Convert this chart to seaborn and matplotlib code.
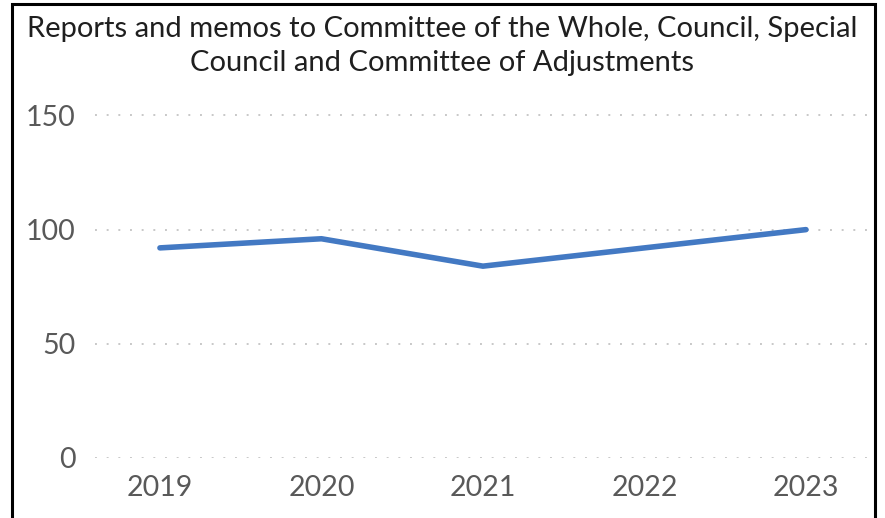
import matplotlib
matplotlib.use("Agg")
import matplotlib.pyplot as plt
from matplotlib.patches import Rectangle
import seaborn as sns
import pandas as pd

years = ["2019", "2020", "2021", "2022", "2023"]
reports = [92, 96, 84, 92, 100]
y_ticks = [0, 50, 100, 150]
title = "Reports and memos to Committee of the Whole, Council, Special\nCouncil and Committee of Adjustments"

sns.set_theme(style="white")
plt.rcParams["font.family"] = ["Lato", "DejaVu Sans"]

df = pd.DataFrame({"pos": range(len(years)), "count": reports})

fig = plt.figure(figsize=(8.85, 5.18), dpi=100)
ax = fig.add_axes([95 / 885, 1 - 458 / 518, (868 - 95) / 885, (458 - 112) / 518])

sns.lineplot(data=df, x="pos", y="count", ax=ax, color="#4379C3",
             linewidth=4.0, solid_capstyle="round", solid_joinstyle="round")

ax.set_xlim(-0.402, 4.384)
ax.set_ylim(0, 151.5)
ax.set_yticks(y_ticks)
ax.set_yticklabels([str(v) for v in y_ticks])
ax.set_xticks(range(len(years)))
ax.set_xticklabels(years)
ax.set_xlabel("")
ax.set_ylabel("")
for v in y_ticks:
    ax.axhline(v, color="#C8C8C8", linewidth=1.4, linestyle=(0, (1, 5)), zorder=0)
ax.grid(False)
for s in ax.spines.values():
    s.set_visible(False)
ax.tick_params(axis="both", length=0, labelsize=20.5, labelcolor="#595959")
ax.tick_params(axis="y", pad=14)
ax.tick_params(axis="x", pad=12)

fig.text(0.5, 1 - 46 / 518, title, ha="center", va="center", fontsize=21,
         color="#1F1F1F", linespacing=1.38)

fig.patches.append(Rectangle((12 / 885, -0.02), (875 - 12) / 885, 1 - 4 / 518 + 0.02,
                             transform=fig.transFigure, fill=False,
                             edgecolor="black", linewidth=2.2))

fig.savefig("out.png", dpi=100)
